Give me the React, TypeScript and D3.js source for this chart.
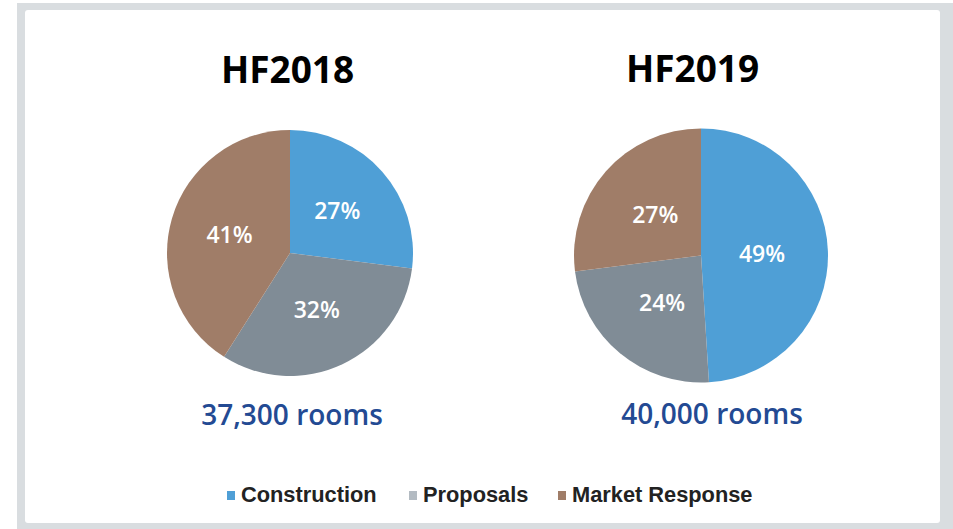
import React from 'react';
import * as d3 from 'd3';

const categories = ['Construction', 'Proposals', 'Market Response'];
const years = ['HF2018', 'HF2019'];
const values2018 = [27, 32, 41];
const values2019 = [49, 24, 27];
const rooms = ['37,300 rooms', '40,000 rooms'];

const sliceColors = ['#4f9fd6', '#808c96', '#a07d68'];
const legendColors = ['#4f9fd6', '#b3bbc2', '#a07d68'];

const W = 953;
const H = 529;

type PieProps = {
  values: number[];
  cx: number;
  cy: number;
  r: number;
  labelR: number;
};

function Pie({ values, cx, cy, r, labelR }: PieProps) {
  const pie = d3.pie<number>().sort(null).value(d => d);
  const arcs = pie(values);
  const arc = d3.arc<d3.PieArcDatum<number>>().innerRadius(0).outerRadius(r);
  const labelArc = d3.arc<d3.PieArcDatum<number>>().innerRadius(labelR).outerRadius(labelR);
  return (
    <g transform={`translate(${cx},${cy})`}>
      {arcs.map((a, i) => (
        <path key={i} d={arc(a) || ''} fill={sliceColors[i]} />
      ))}
      {arcs.map((a, i) => {
        const [x, y] = labelArc.centroid(a);
        return (
          <text key={'t' + i} x={x} y={y} dy="0.35em" textAnchor="middle"
            fill="#fff" fontSize={23} fontFamily="'Open Sans', sans-serif" fontWeight={600}>
            {a.data}%
          </text>
        );
      })}
    </g>
  );
}

export default function App() {
  // swatch x of each legend entry
  const legendX = [227, 409, 558];
  return (
    <svg width={W} height={H} style={{ position: 'absolute', left: 0, top: 0 }}>
      <rect x={0} y={0} width={W} height={H} fill="#fff" />
      <rect x={17} y={3} width={W - 17} height={H - 3} fill="#d9dde0" />
      <rect x={25} y={10} width={915} height={513} rx={3} fill="#fff" />

      <text x={287.5} y={83} textAnchor="middle" fontSize={37} fontWeight={700}
        fontFamily="'Open Sans', sans-serif" fill="#000">{years[0]}</text>
      <text x={692.5} y={82} textAnchor="middle" fontSize={37} fontWeight={700}
        fontFamily="'Open Sans', sans-serif" fill="#000">{years[1]}</text>

      <Pie values={values2018} cx={290} cy={253} r={123} labelR={63} />
      <Pie values={values2019} cx={701} cy={255.5} r={127} labelR={61} />

      <text x={292} y={425} textAnchor="middle" fontSize={28} fontWeight={600}
        fontFamily="'Open Sans', sans-serif" fill="#234a93">{rooms[0]}</text>
      <text x={712} y={424} textAnchor="middle" fontSize={28} fontWeight={600}
        fontFamily="'Open Sans', sans-serif" fill="#234a93">{rooms[1]}</text>

      {categories.map((c, i) => (
        <g key={c}>
          <rect x={legendX[i]} y={491} width={8} height={9} fill={legendColors[i]} />
          <text x={legendX[i] + 14} y={502} fontSize={21.8} fontWeight={700}
            fontFamily="'Liberation Sans', Arial, sans-serif" fill="#222">{c}</text>
        </g>
      ))}
    </svg>
  );
}
